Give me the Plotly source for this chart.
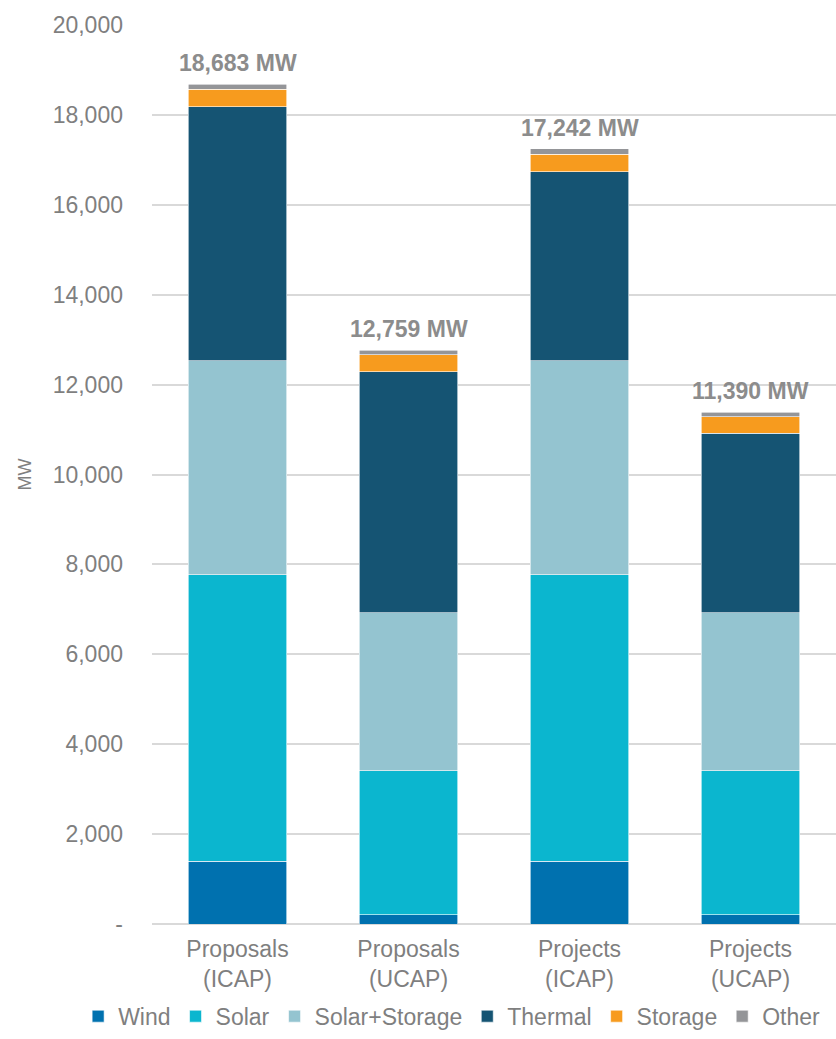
import plotly.graph_objects as go

categories = ["Proposals<br>(ICAP)", "Proposals<br>(UCAP)", "Projects<br>(ICAP)", "Projects<br>(UCAP)"]
wind = [1392, 207, 1392, 207]
solar = [6376, 3202, 6376, 3202]
solar_storage = [4759, 3514, 4766, 3514]
thermal = [5656, 5367, 4204, 3997]
storage = [387, 371, 386, 369]
other = [113, 98, 118, 101]
totals = [18683, 12759, 17242, 11390]
total_labels = ["18,683 MW", "12,759 MW", "17,242 MW", "11,390 MW"]
y_tickvals = [0, 2000, 4000, 6000, 8000, 10000, 12000, 14000, 16000, 18000, 20000]
y_ticktext = ["-", "2,000", "4,000", "6,000", "8,000", "10,000", "12,000", "14,000", "16,000", "18,000", "20,000"]

series = [
    ("Wind", wind, "#0071AF"),
    ("Solar", solar, "#0BB6CF"),
    ("Solar+Storage", solar_storage, "#94C4D0"),
    ("Thermal", thermal, "#155473"),
    ("Storage", storage, "#F79B1E"),
    ("Other", other, "#949598"),
]

FONT = "Liberation Sans, Arial, sans-serif"
GRAY = "#7f7f7f"

fig = go.Figure()
for name, vals, color in series:
    fig.add_trace(go.Bar(
        x=categories, y=vals, name=name,
        marker=dict(color=color, line=dict(color="white", width=0.6)),
        hoverinfo="skip",
    ))

for cat, tot, lab in zip(categories, totals, total_labels):
    fig.add_annotation(
        x=cat, y=tot, text="<b>" + lab + "</b>", showarrow=False,
        yanchor="bottom", yshift=6,
        font=dict(family=FONT, size=23, color="#8c8c8c"),
    )

fig.update_layout(
    width=836, height=1039,
    margin=dict(l=152, r=0, t=25, b=115, autoexpand=False),
    barmode="stack",
    bargap=0.426,
    plot_bgcolor="white",
    paper_bgcolor="white",
    font=dict(family=FONT, size=24, color=GRAY),
    showlegend=True,
    legend=dict(
        orientation="h", x=-0.108, xanchor="left", y=-0.1265, yanchor="bottom",
        traceorder="normal", font=dict(size=23, color=GRAY),
        itemwidth=30,
    ),
    xaxis=dict(
        showgrid=False, showline=False, ticks="",
        ticklabelstandoff=9,
        tickfont=dict(size=23, color=GRAY),
    ),
    yaxis=dict(
        range=[0, 20000],
        tickvals=y_tickvals, ticktext=y_ticktext,
        showgrid=True, gridcolor="#d9d9d9", gridwidth=1.5,
        zeroline=True, zerolinecolor="#d9d9d9", zerolinewidth=2,
        showline=False, ticks="",
        ticklabelstandoff=28,
        tickfont=dict(size=23, color=GRAY),
        title=dict(text="MW", font=dict(size=18, color=GRAY), standoff=16),
    ),
)

fig.write_html("out.html")
